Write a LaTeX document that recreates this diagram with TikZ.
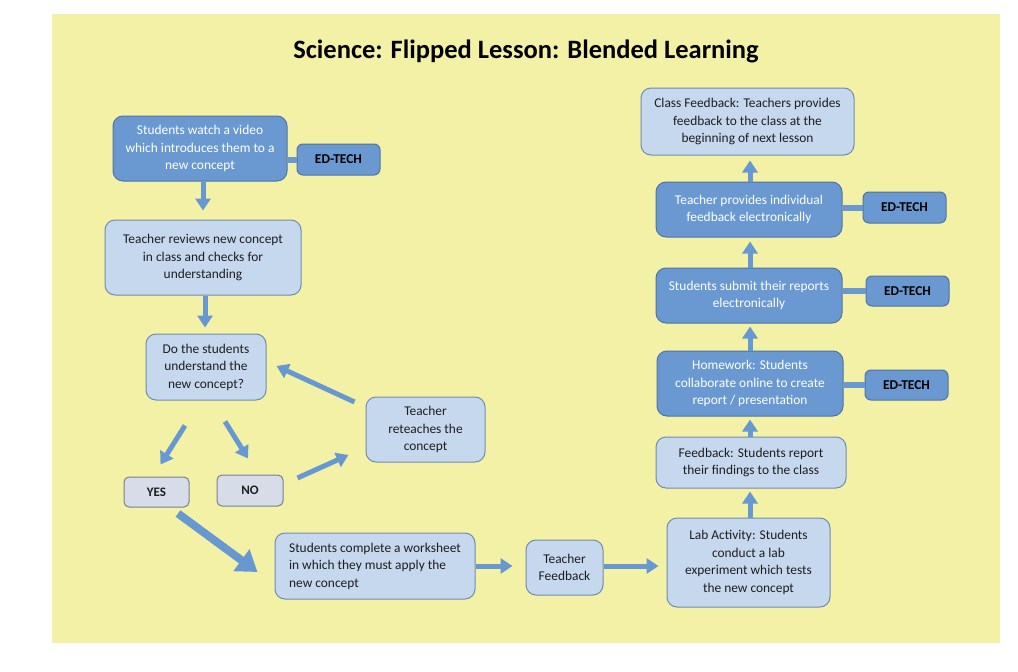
\documentclass[tikz,border=0pt]{standalone}
\usepackage{fontspec}
\setmainfont{Carlito}
\usetikzlibrary{arrows.meta,calc}
\definecolor{bgy}{RGB}{243,241,165}
\definecolor{darkb}{RGB}{106,153,209}
\definecolor{darkbd}{RGB}{78,116,166}
\definecolor{lightb}{RGB}{197,216,238}
\definecolor{lightbd}{RGB}{112,140,176}
\definecolor{ynfill}{RGB}{214,220,232}
\definecolor{ynbd}{RGB}{118,128,148}
\definecolor{arrc}{RGB}{104,152,210}
\definecolor{txt}{RGB}{30,30,30}
\tikzset{
  box/.style={rectangle, rounded corners=10pt, line width=1pt, inner sep=2pt, align=center, font=\fontsize{13.4}{17.5}\selectfont},
  dark/.style={box, fill=darkb, draw=darkbd, text=white},
  light/.style={box, fill=lightb, draw=lightbd, text=txt},
  edt/.style={box, fill=darkb, draw=darkbd, text=black, rounded corners=6pt, font=\bfseries\fontsize{13.5}{16}\selectfont},
  yn/.style={box, fill=ynfill, draw=ynbd, text=txt, rounded corners=5pt, font=\bfseries\fontsize{13}{16}\selectfont},
  arr/.style={draw=arrc, line width=5pt, -{Triangle[length=12pt,width=15pt]}},
  bigarr/.style={draw=arrc, line width=8pt, -{Triangle[length=20pt,width=26pt]}},
  stub/.style={draw=darkb, line width=6pt}
}
\begin{document}
\begin{tikzpicture}[x=1pt,y=-1pt]
\fill[white] (0,0) rectangle (1018,672);
\useasboundingbox (0,0) rectangle (1018,672);
\fill[bgy] (52,14) rectangle (1000,643);

\node[font=\bfseries\fontsize{26.5}{30}\selectfont, text=black] (title) at (526,51) {Science: Flipped Lesson: Blended Learning};

\node[dark, minimum width=174pt, minimum height=65pt] (vid) at (200,148.5) {Students watch a video\\which introduces them to a\\new concept};
\node[edt, minimum width=83pt, minimum height=31pt] (ed1) at (338.5,159.5) {ED-TECH};
\node[light, minimum width=196pt, minimum height=75pt] (rev) at (203,257.5) {Teacher reviews new concept\\in class and checks for\\understanding};
\node[light, minimum width=120pt, minimum height=66pt] (q) at (206,367) {Do the students\\understand the\\new concept?};
\node[yn, minimum width=65pt, minimum height=30pt] (yes) at (156.5,492) {YES};
\node[yn, minimum width=66pt, minimum height=31pt] (no) at (250,490.5) {NO};
\node[light, minimum width=119pt, minimum height=65pt] (ret) at (425.5,429.5) {Teacher\\reteaches the\\concept};
\node[light, align=left, minimum width=200pt, minimum height=66pt] (ws) at (375,566) {Students complete a worksheet\\in which they must apply the\\new concept};
\node[light, minimum width=77pt, minimum height=55pt] (tf) at (564.5,567.5) {Teacher\\Feedback};
\node[light, minimum width=163pt, minimum height=89pt] (lab) at (748.5,562.5) {Lab Activity: Students\\conduct a lab\\experiment which tests\\the new concept};
\node[light, minimum width=190pt, minimum height=51pt] (fb) at (751,462.5) {Feedback: Students report\\their findings to the class};
\node[dark, minimum width=186pt, minimum height=65pt] (hw) at (750,383.5) {Homework: Students\\collaborate online to create\\report / presentation};
\node[edt, minimum width=83pt, minimum height=30pt] (ed2) at (906.5,385) {ED-TECH};
\node[dark, minimum width=186pt, minimum height=55pt] (sub) at (749,295.5) {Students submit their reports\\electronically};
\node[edt, minimum width=83pt, minimum height=30pt] (ed3) at (907.5,291) {ED-TECH};
\node[dark, minimum width=186pt, minimum height=55pt] (ind) at (749,209.5) {Teacher provides individual\\feedback electronically};
\node[edt, minimum width=83pt, minimum height=31pt] (ed4) at (904.5,207.5) {ED-TECH};
\node[light, minimum width=213pt, minimum height=67pt] (cls) at (747.5,121.5) {Class Feedback: Teachers provides\\feedback to the class at the\\beginning of next lesson};

% ED-TECH stubs
\draw[stub] (vid.east |- ed1.west) -- (ed1.west);
\draw[stub] (hw.east |- ed2.west) -- (ed2.west);
\draw[stub] (sub.east |- ed3.west) -- (ed3.west);
\draw[stub] (ind.east |- ed4.west) -- (ed4.west);

% arrows
\draw[arr] ($(vid.south)+(3,0)$) -- ($(rev.north)+(0,-9)$);
\draw[arr] ($(rev.south)+(2,0)$) -- ($(q.north)+(-1,-6)$);
\draw[arr] ($(q.south)+(-21,25)$) -- ($(yes.north)+(4,-12)$);
\draw[arr] ($(q.south)+(19,21)$) -- ($(no.north)+(-2,-16)$);
\draw[arr] ($(no.east)+(14,-12.5)$) -- ($(ret.west)+(-17,25.5)$);
\draw[arr] ($(ret.west)+(-11,-27.5)$) -- ($(q.east)+(10,-1)$);
\draw[bigarr] ($(yes.south)+(21.5,6)$) -- ($(ws.west)+(-17,6)$);
\draw[arr, shorten >=13pt] (ws.east) -- (ws.east -| tf.west);
\draw[arr, shorten >=8pt] ($(tf.east)+(0,-1.5)$) -- ($(tf.east -| lab.west)+(0,-1.5)$);
\draw[arr, shorten >=3pt] ($(lab.north)+(1.5,0)$) -- ($(lab.north |- fb.south)+(1.5,0)$);
\draw[arr, shorten >=3pt] ($(fb.north)+(-1,0)$) -- ($(fb.north |- hw.south)+(-1,0)$);
\draw[arr, shorten >=3pt] ($(hw.north)+(0,0)$) -- ($(hw.north |- sub.south)+(0,0)$);
\draw[arr, shorten >=4pt] ($(sub.north)+(1,0)$) -- ($(sub.north |- ind.south)+(1,0)$);
\draw[arr, shorten >=5pt] ($(ind.north)+(1,0)$) -- ($(ind.north |- cls.south)+(1,0)$);
\end{tikzpicture}
\end{document}
